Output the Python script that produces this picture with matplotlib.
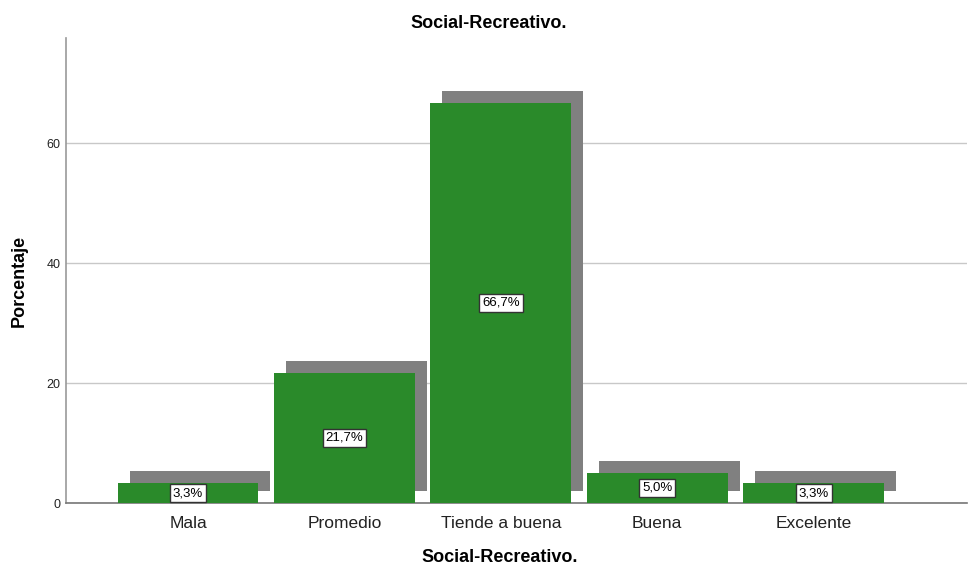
import numpy as np
import matplotlib
matplotlib.use("Agg")
from matplotlib import pyplot as plt

plt.rcParams['font.family'] = ['Liberation Sans', 'DejaVu Sans']

# datos del gráfico
categorias = ['Mala', 'Promedio', 'Tiende a buena', 'Buena', 'Excelente']
porcentajes = [3.3, 21.7, 66.7, 5.0, 3.3]
etiquetas = ['3,3%', '21,7%', '66,7%', '5,0%', '3,3%']

verde = '#2a8a2a'
gris = '#808080'

fig = plt.figure(figsize=(9.69, 5.68), dpi=100)
ax = fig.add_axes([66 / 969, 65 / 568, 901 / 969, 465 / 568])

x = np.arange(len(categorias))
ancho = 0.9
# sombra desplazada (estilo SPSS)
dx = 12 / 156.5
dy = 2.0
ax.bar(x + dx, porcentajes, width=ancho, bottom=dy, color=gris, zorder=2)
ax.bar(x, porcentajes, width=ancho, color=verde, zorder=3)

for xi, v, txt in zip(x, porcentajes, etiquetas):
    ax.text(xi, v / 2, txt, ha='center', va='center', fontsize=9.5, zorder=4,
            bbox=dict(boxstyle='square,pad=0.22', fc='white', ec='#333333', lw=1))

ax.set_xlim(-0.78, 4.98)
ax.set_ylim(0, 77.5)
ax.set_yticks([0, 20, 40, 60])
ax.set_xticks(x)
ax.set_xticklabels(categorias, fontsize=12.5, color='#222222')
ax.tick_params(axis='x', length=0, pad=9)
ax.tick_params(axis='y', length=0, pad=4, labelsize=9, labelcolor='#222222')
ax.grid(axis='y', color='#c8c8c8', lw=1, zorder=0)

for s in ['top', 'right']:
    ax.spines[s].set_visible(False)
ax.spines['left'].set_color('#999999')
ax.spines['bottom'].set_color('#777777')
ax.spines['left'].set_linewidth(1.2)
ax.spines['bottom'].set_linewidth(1.2)

fig.text(489 / 969, 1 - 23 / 568, 'Social-Recreativo.', ha='center', va='center',
         fontsize=13, fontweight='bold')
fig.text(500 / 969, 1 - 558 / 568, 'Social-Recreativo.', ha='center', va='center',
         fontsize=13, fontweight='bold')
fig.text(19 / 969, 1 - 281 / 568, 'Porcentaje', ha='center', va='center',
         rotation=90, fontsize=13, fontweight='bold')

fig.savefig('out.png', dpi=100)
